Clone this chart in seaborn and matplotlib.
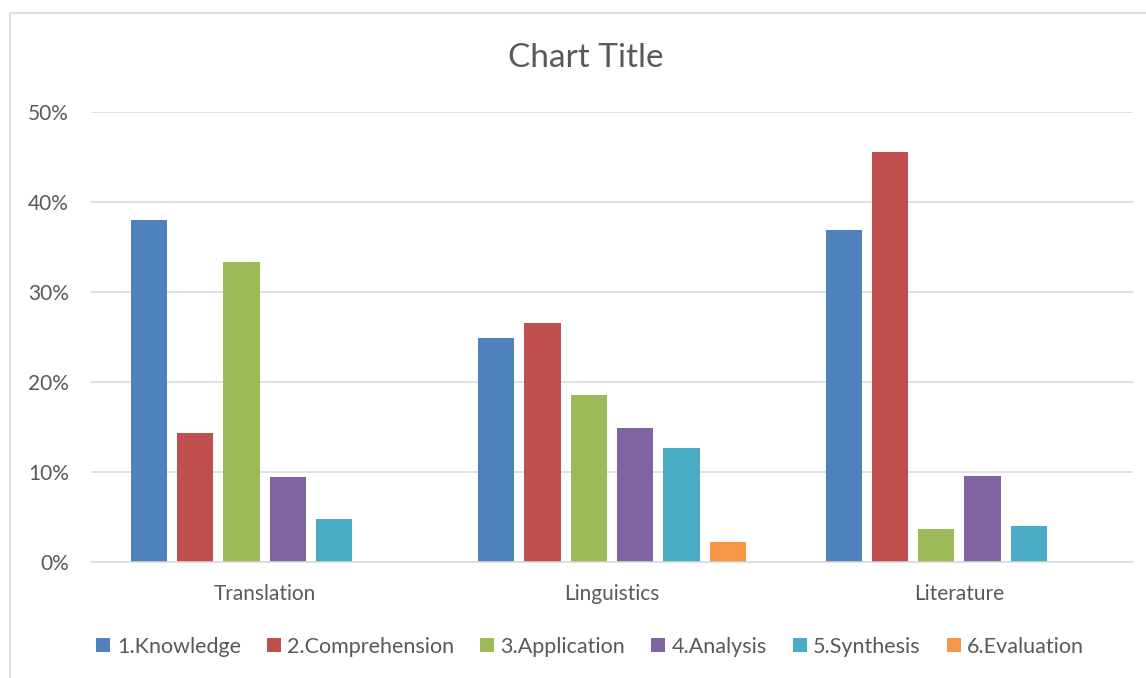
import pandas as pd
import matplotlib.pyplot as plt
import seaborn as sns
from matplotlib.ticker import PercentFormatter
from matplotlib.lines import Line2D

fields = ["Translation", "Linguistics", "Literature"]
levels = ["1.Knowledge", "2.Comprehension", "3.Application",
          "4.Analysis", "5.Synthesis", "6.Evaluation"]

knowledge = [0.380, 0.249, 0.369]
comprehension = [0.143, 0.266, 0.456]
application = [0.333, 0.185, 0.037]
analysis = [0.094, 0.149, 0.095]
synthesis = [0.048, 0.127, 0.040]
evaluation = [0.0, 0.022, 0.0]

colors = ["#4F81BD", "#C0504D", "#9BBB59", "#8064A2", "#4BACC6", "#F79646"]
text_gray = "#595959"

rows = []
for lvl, vals in zip(levels, [knowledge, comprehension, application,
                              analysis, synthesis, evaluation]):
    for f, v in zip(fields, vals):
        rows.append({"Field": f, "Level": lvl, "Share": v})
data = pd.DataFrame(rows)

sns.set_style("white")
plt.rcParams['font.family'] = ['Lato', 'DejaVu Sans']

fig = plt.figure(figsize=(11.46, 6.78), dpi=100)
ax = fig.add_axes([0.0794, 0.1711, 0.9093, 0.6637])

sns.barplot(data=data, x="Field", y="Share", hue="Level", order=fields,
            hue_order=levels, palette=colors, saturation=1, width=0.8,
            gap=0.22, linewidth=0, errorbar=None, ax=ax)

ax.set_ylim(0, 0.5)
ax.set_xlim(-0.5, 2.5)
ax.set_yticks([0, 0.1, 0.2, 0.3, 0.4, 0.5])
ax.yaxis.set_major_formatter(PercentFormatter(1.0, decimals=0))
ax.grid(axis="y", color="#D9D9D9", linewidth=1.1)
ax.set_axisbelow(True)
for side in ["top", "right", "left"]:
    ax.spines[side].set_visible(False)
ax.spines["bottom"].set_color("#D9D9D9")
ax.spines["bottom"].set_linewidth(1.1)
ax.tick_params(axis="y", length=0, pad=16, labelsize=15, labelcolor=text_gray)
ax.tick_params(axis="x", length=0, pad=16, labelsize=15, labelcolor=text_gray)
ax.set_xlabel("")
ax.set_ylabel("")

fig.text(0.511, 0.914, "Chart Title", ha="center", va="center",
         fontsize=24, color=text_gray)

handles, labels = ax.get_legend_handles_labels()
ax.get_legend().remove()
fig.legend(handles, labels, loc="center", bbox_to_anchor=(0.515, 0.046),
           ncol=6, frameon=False, fontsize=15.5, labelcolor=text_gray,
           handlelength=0.65, handleheight=0.65, handletextpad=0.3,
           columnspacing=1.2)

# chart area border
fig.add_artist(Line2D([10 / 1146, 1], [1 - 13 / 678, 1 - 13 / 678],
                      color="#D9D9D9", linewidth=1.2))
fig.add_artist(Line2D([10 / 1146, 10 / 1146], [0, 1 - 13 / 678],
                      color="#D9D9D9", linewidth=1.2))

plt.savefig("out.png", dpi=100, facecolor="white")
